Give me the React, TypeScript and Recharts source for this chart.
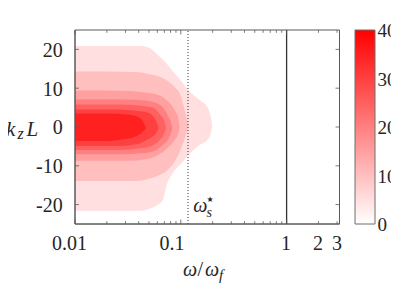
import React from 'react';
import { ComposedChart, Area, XAxis, YAxis, ReferenceLine, BarChart, Bar } from 'recharts';

// contour levels (lower bound of each filled band)
const levels = [5, 10, 15, 20, 25, 30, 35];

// band boundaries: omega/omega_f, lower k_z L, upper k_z L
const band5 = [
  { w: 0.01, lo: -21.6, hi: 20.9 },
  { w: 0.0411, lo: -21.6, hi: 20.9 },
  { w: 0.0512, lo: -21.0, hi: 20.3 },
  { w: 0.0609, lo: -20.0, hi: 18.5 },
  { w: 0.0679, lo: -18.8, hi: 17.3 },
  { w: 0.0725, lo: -15.5, hi: 16.5 },
  { w: 0.0825, lo: -12.2, hi: 14.6 },
  { w: 0.098, lo: -9.8, hi: 12.3 },
  { w: 0.1222, lo: -6.8, hi: 9.0 },
  { w: 0.1516, lo: -4.6, hi: 6.9 },
  { w: 0.1773, lo: -3.4, hi: 5.2 },
  { w: 0.1904, lo: -2.0, hi: 3.0 },
  { w: 0.1984, lo: 0.3, hi: 0.3 },
];
const band10 = [
  { w: 0.01, lo: -13.9, hi: 14.3 },
  { w: 0.0369, lo: -13.9, hi: 14.2 },
  { w: 0.0512, lo: -13.3, hi: 13.6 },
  { w: 0.0636, lo: -12.3, hi: 12.9 },
  { w: 0.0757, lo: -11.0, hi: 11.8 },
  { w: 0.0883, lo: -8.7, hi: 10.2 },
  { w: 0.098, lo: -6.3, hi: 8.6 },
  { w: 0.1073, lo: -3.5, hi: 5.0 },
  { w: 0.1145, lo: -1.0, hi: 1.8 },
  { w: 0.1185, lo: 0.3, hi: 0.3 },
];
const band15 = [
  { w: 0.01, lo: -8.7, hi: 9.4 },
  { w: 0.0331, lo: -8.7, hi: 9.3 },
  { w: 0.0459, lo: -8.3, hi: 8.9 },
  { w: 0.0595, lo: -7.4, hi: 8.4 },
  { w: 0.0757, lo: -5.3, hi: 6.6 },
  { w: 0.0883, lo: -3.2, hi: 4.2 },
  { w: 0.0951, lo: -1.5, hi: 1.8 },
  { w: 0.0972, lo: 0.0, hi: 0.0 },
];
const band20 = [
  { w: 0.01, lo: -7.0, hi: 7.1 },
  { w: 0.0297, lo: -7.0, hi: 7.1 },
  { w: 0.0459, lo: -6.7, hi: 6.8 },
  { w: 0.057, lo: -6.1, hi: 6.3 },
  { w: 0.0679, lo: -4.6, hi: 5.0 },
  { w: 0.0757, lo: -3.3, hi: 2.9 },
  { w: 0.0809, lo: -1.5, hi: 1.2 },
  { w: 0.0834, lo: -0.2, hi: -0.2 },
];
const band25 = [
  { w: 0.01, lo: -5.9, hi: 5.8 },
  { w: 0.0266, lo: -5.9, hi: 5.8 },
  { w: 0.0411, lo: -5.5, hi: 5.5 },
  { w: 0.0546, lo: -4.7, hi: 5.0 },
  { w: 0.0636, lo: -3.3, hi: 3.2 },
  { w: 0.0694, lo: -1.8, hi: 1.6 },
  { w: 0.0725, lo: -0.3, hi: -0.3 },
];
const band30 = [
  { w: 0.01, lo: -4.9, hi: 4.5 },
  { w: 0.0239, lo: -4.9, hi: 4.5 },
  { w: 0.0369, lo: -4.5, hi: 4.2 },
  { w: 0.0459, lo: -3.6, hi: 3.9 },
  { w: 0.0534, lo: -2.6, hi: 3.0 },
  { w: 0.0583, lo: -1.6, hi: 1.6 },
  { w: 0.0616, lo: -0.3, hi: -0.3 },
];
const band35 = [
  { w: 0.01, lo: -3.6, hi: 3.5 },
  { w: 0.0205, lo: -3.6, hi: 3.5 },
  { w: 0.0297, lo: -3.1, hi: 3.3 },
  { w: 0.0369, lo: -2.5, hi: 2.9 },
  { w: 0.043, lo: -1.4, hi: 1.8 },
  { w: 0.0469, lo: -0.3, hi: -0.3 },
];
const bands = [band5, band10, band15, band20, band25, band30, band35];

const xTicks = [
  0.01, 0.02, 0.03, 0.04, 0.05, 0.06, 0.07, 0.08, 0.09,
  0.1, 0.2, 0.3, 0.4, 0.5, 0.6, 0.7, 0.8, 0.9,
  1, 2, 3,
];
const xMajor = [0.01, 0.1, 1];
const xTickLabels: Record<string, string> = { '0.01': '0.01', '0.1': '0.1', '1': '1', '2': '2', '3': '3' };
const xLabelShift: Record<string, number> = { '0.01': -5.5, '0.1': -8.8, '1': -0.7, '2': -0.5, '3': 0 };
const xDomain = [0.01, 3.1623];
const yTicks = [-20, -10, 0, 10, 20];
const yDomain = [-25, 25];
const omegaStar = 0.117;
const omegaF = 1;
const cbTicks = [0, 10, 20, 30, 40];
const cbMax = 40;
const cbData = [{ name: 'colorbar', v: 40 }];

const FONT = 'Liberation Serif';
const TXT = '#262626';
const AX = '#5a5a5a';
const PL = 75, PT = 30, PR = 339.5, PB = 224;
const CB_LEFT = 345; // page x of colorbar chart

const levelColor = (L: number) => {
  const g = Math.round(255 * (1 - L / cbMax));
  return `rgb(255,${g},${g})`;
};

const serif = (size: number, italic = false): React.CSSProperties => ({
  fontFamily: FONT,
  fontSize: size,
  fontStyle: italic ? 'italic' : 'normal',
});

const XTick = (props: any) => {
  const { x, payload } = props;
  const v = payload.value;
  const key = String(v);
  const len = xMajor.includes(v) ? 4.5 : 2.8;
  const label = xTickLabels[key];
  return (
    <g>
      <line x1={x} x2={x} y1={PB} y2={PB - len} stroke={AX} strokeWidth={0.8} />
      <line x1={x} x2={x} y1={PT} y2={PT + len} stroke={AX} strokeWidth={0.8} />
      {label && (
        <text x={x + (xLabelShift[key] || 0)} y={250} textAnchor="middle" style={serif(20)} fill={TXT}>
          {label}
        </text>
      )}
    </g>
  );
};

const YTick = (props: any) => {
  const { y, payload } = props;
  return (
    <g>
      <line x1={PL} x2={PL + 4} y1={y} y2={y} stroke={AX} strokeWidth={0.8} />
      <line x1={PR} x2={PR - 4} y1={y} y2={y} stroke={AX} strokeWidth={0.8} />
      <text x={62.7} y={y + 7.3} textAnchor="end" style={serif(20)} fill={TXT}>
        {String(payload.value)}
      </text>
    </g>
  );
};

const CbTick = (props: any) => {
  const { y, payload } = props;
  return (
    <text x={377.5 - CB_LEFT} y={y + 7} textAnchor="start" style={serif(19)} fill={TXT}>
      {String(payload.value)}
    </text>
  );
};

const XLabel = () => (
  <g fill={TXT}>
    <text x={183} y={275.5} style={serif(20, true)} fill={TXT}>ω</text>
    <text x={197.5} y={275.5} style={serif(20)} fill={TXT}>/</text>
    <text x={205} y={275.5} style={serif(20, true)} fill={TXT}>ω</text>
    <text x={219} y={280} style={serif(15, true)} fill={TXT}>f</text>
  </g>
);

const YLabel = () => (
  <g fill={TXT}>
    <text x={6} y={136} style={serif(21, true)} fill={TXT}>k</text>
    <text x={17.5} y={138.5} style={serif(16, true)} fill={TXT}>z</text>
    <text x={26.5} y={136} style={serif(21, true)} fill={TXT}>L</text>
  </g>
);

const StarLabel = () => (
  <g fill={TXT}>
    <text x={193.3} y={211.5} style={serif(20, true)} fill={TXT}>ω</text>
    <text x={206.5} y={202} style={{ fontFamily: 'DejaVu Sans', fontSize: 8 }} fill={TXT}>★</text>
    <text x={206.5} y={216.5} style={serif(14, true)} fill={TXT}>s</text>
  </g>
);

export default function App() {
  return (
    <div style={{ position: 'relative', width: 391, height: 284 }}>
      <div style={{ position: 'absolute', left: -8, top: -8 }}>
        <ComposedChart width={399} height={300} margin={{ top: PT, right: 399 - PR, bottom: 0, left: 0 }}>
          {bands.map((b, i) => (
            <Area
              key={levels[i]}
              data={b.map((p) => ({ w: p.w, r: [p.lo, p.hi] }))}
              dataKey="r"
              type="monotone"
              stroke="none"
              fill={levelColor(levels[i])}
              fillOpacity={1}
              dot={false}
              activeDot={false}
              isAnimationActive={false}
            />
          ))}
          <XAxis
            dataKey="w"
            type="number"
            scale="log"
            domain={xDomain}
            allowDataOverflow
            ticks={xTicks}
            interval={0}
            tick={(p: any) => <XTick {...p} />}
            tickLine={false}
            tickSize={0}
            tickMargin={0}
            height={300 - PB}
            axisLine={{ stroke: AX, strokeWidth: 1 }}
            label={{ content: () => <XLabel /> }}
          />
          <YAxis
            type="number"
            domain={yDomain}
            allowDataOverflow
            ticks={yTicks}
            interval={0}
            width={PL}
            tick={(p: any) => <YTick {...p} />}
            tickLine={false}
            tickSize={0}
            tickMargin={0}
            axisLine={{ stroke: AX, strokeWidth: 1 }}
            label={{ content: () => <YLabel /> }}
          />
          <ReferenceLine y={25} stroke={AX} strokeWidth={1} ifOverflow="visible" />
          <ReferenceLine x={xDomain[1]} stroke={AX} strokeWidth={1} ifOverflow="visible" />
          <ReferenceLine x={0.01} stroke={AX} strokeWidth={1} ifOverflow="visible" />
          <ReferenceLine y={-25} stroke={AX} strokeWidth={1} ifOverflow="visible" />
          <ReferenceLine x={omegaStar} stroke="#333" strokeWidth={1} strokeDasharray="1 2" label={{ content: () => <StarLabel /> }} />
          <ReferenceLine x={omegaF} stroke="#333" strokeWidth={1.3} />
        </ComposedChart>
      </div>
      <div style={{ position: 'absolute', left: CB_LEFT - 8, top: -8 }}>
        <BarChart width={399 - CB_LEFT} height={300} data={cbData} margin={{ top: PT, right: 0, bottom: 300 - PB, left: 10 }} barCategoryGap={0}>
          <defs>
            <linearGradient id="cbGrad" x1="0" y1="1" x2="0" y2="0">
              <stop offset="0%" stopColor="#ffffff" />
              <stop offset="100%" stopColor="#ff0000" />
            </linearGradient>
          </defs>
          <XAxis dataKey="name" hide height={0} />
          <YAxis
            orientation="right"
            type="number"
            domain={[0, cbMax]}
            ticks={cbTicks}
            interval={0}
            width={24}
            tickLine={false}
            axisLine={false}
            tickSize={0}
            tickMargin={0}
            tick={(p: any) => <CbTick {...p} />}
          />
          <Bar dataKey="v" fill="url(#cbGrad)" stroke="#6e6e6e" strokeWidth={1} isAnimationActive={false} />
        </BarChart>
      </div>
    </div>
  );
}
